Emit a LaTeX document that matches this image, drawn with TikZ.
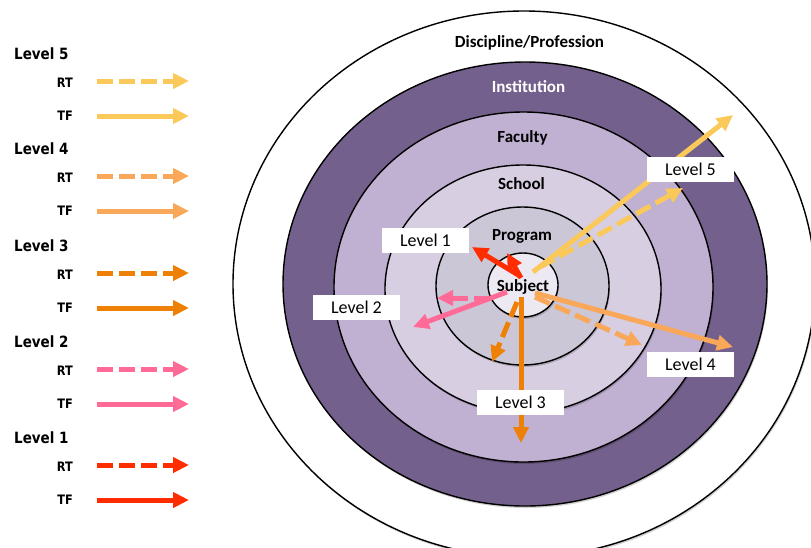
\documentclass[tikz,border=0pt]{standalone}
\usepackage{fontspec}
\setmainfont{Carlito}
\newfontfamily\legendfont[FakeStretch=0.87]{DejaVu Sans}
\usetikzlibrary{arrows.meta}
\definecolor{cInst}{RGB}{116,96,140}
\definecolor{cFac}{RGB}{192,176,210}
\definecolor{cSch}{RGB}{215,206,226}
\definecolor{cProg}{RGB}{204,199,214}
\definecolor{cSubj}{RGB}{237,233,242}
\definecolor{cLv5}{RGB}{251,200,90}
\definecolor{cLv4}{RGB}{249,167,89}
\definecolor{cLv3}{RGB}{238,128,5}
\definecolor{cLv2}{RGB}{255,107,150}
\definecolor{cLv1}{RGB}{255,44,0}
\begin{document}
\begin{tikzpicture}[x=1pt,y=-1pt,
 ring/.style={draw=black,line width=1.4pt},
 ringshadow/.style={fill=black,opacity=0.18},
 ringlabel/.style={font=\fontsize{17}{20}\selectfont\bfseries, inner sep=0pt, text height=11pt, text depth=0pt},
 lvlbox/.style={fill=white, minimum width=87pt, minimum height=25pt, inner sep=0pt,
   text height=11.6pt, text depth=0pt, font=\fontsize{18}{20}\selectfont},
 tfarrow/.style={line width=5pt, -{Triangle[length=16pt,width=15pt]}},
 rtarrow/.style={tfarrow, dash pattern=on 16pt off 6pt},
 lghead/.style={font=\legendfont\fontsize{15.5}{18}\selectfont\bfseries, anchor=west, inner sep=0pt, text height=11.3pt, text depth=0pt},
 lgkey/.style={font=\legendfont\fontsize{13}{15}\selectfont\bfseries, anchor=east, inner sep=0pt, text height=9.5pt, text depth=0pt},
]
\useasboundingbox (0,0) rectangle (811,547);
\clip (0,0) rectangle (811,547);
\fill[white] (0,0) rectangle (811,547);

% rings
\fill[ringshadow] (525,286) ellipse [x radius=291pt, y radius=273pt];
\draw[ring, fill=white] (524,284) ellipse [x radius=291pt, y radius=273pt];
\fill[ringshadow] (526,286) ellipse [x radius=242pt, y radius=222pt];
\draw[ring, fill=cInst] (525,284) ellipse [x radius=242pt, y radius=222pt];
\fill[ringshadow] (524.5,289) ellipse [x radius=189.5pt, y radius=175pt];
\draw[ring, fill=cFac] (523.5,287) ellipse [x radius=189.5pt, y radius=175pt];
\fill[ringshadow] (524,291) ellipse [x radius=138pt, y radius=124pt];
\draw[ring, fill=cSch] (523,289) ellipse [x radius=138pt, y radius=124pt];
\fill[ringshadow] (523.5,288) ellipse [x radius=86.5pt, y radius=79pt];
\draw[ring, fill=cProg] (522.5,286) ellipse [x radius=86.5pt, y radius=79pt];
\fill[ringshadow] (524,287) ellipse [x radius=35pt, y radius=32pt];
\draw[ring, fill=cSubj] (523,285) ellipse [x radius=35pt, y radius=32pt];

% ring labels
\node[ringlabel] (disc) at (529.5,41.7) {Discipline/Profession};
\node[ringlabel, text=white] (inst) at (528.5,87) {Institution};
\node[ringlabel] (fac) at (522.5,137) {Faculty};
\node[ringlabel] (sch) at (521.5,184) {School};
\node[ringlabel] (prog) at (522,235) {Program};
\node[ringlabel] (subj) at (523,285.5) {Subject};

% arrow end points
\coordinate (s5t) at (533,272); \coordinate (e5t) at (733,115);
\coordinate (s5r) at (540,267); \coordinate (e5r) at (683,188);
\coordinate (s4t) at (535,293); \coordinate (e4t) at (733,347);
\coordinate (s4r) at (535,297); \coordinate (e4r) at (642,345);
\coordinate (s3t) at (521,297); \coordinate (e3t) at (521,443);
\coordinate (s3r) at (517,302); \coordinate (e3r) at (492,362);
\coordinate (s2t) at (507,292); \coordinate (e2t) at (413,327);
\coordinate (s2r) at (490,298); \coordinate (e2r) at (437,298);
\coordinate (s1t) at (520,276); \coordinate (e1t) at (472,247);
\coordinate (s1r) at (521,278); \coordinate (e1r) at (507,253);

\draw[tfarrow, cLv5] (s5t) -- (e5t);
\draw[rtarrow, cLv5] (s5r) -- (e5r);
\draw[tfarrow, cLv4] (s4t) -- (e4t);
\draw[rtarrow, cLv4] (s4r) -- (e4r);
\draw[tfarrow, cLv3] (s3t) -- (e3t);
\draw[rtarrow, cLv3] (s3r) -- (e3r);
\draw[tfarrow, cLv2] (s2t) -- (e2t);
\draw[rtarrow, cLv2] (s2r) -- (e2r);
\draw[tfarrow, cLv1] (s1t) -- (e1t);
\draw[rtarrow, cLv1] (s1r) -- (e1r);

% level boxes
\node[lvlbox] (b5) at (690.5,169.5) {Level 5};
\node[lvlbox] (b4) at (690.5,364.5) {Level 4};
\node[lvlbox] (b3) at (520.5,402.5) {Level 3};
\node[lvlbox] (b2) at (356.5,307.5) {Level 2};
\node[lvlbox] (b1) at (425.5,240.5) {Level 1};

% legend
\foreach \lv/\hy/\col in {5/54/cLv5, 4/149/cLv4, 3/246/cLv3, 2/342/cLv2, 1/438/cLv1}{
  \node[lghead] (h\lv) at (14,\hy) {Level \lv};
  \node[lgkey] (rt\lv) at (73,\hy+29) {RT};
  \node[lgkey] (tf\lv) at (73,\hy+62) {TF};
  \coordinate (rs\lv) at (97,\hy+27);
  \coordinate (re\lv) at (189,\hy+27);
  \coordinate (ts\lv) at (97,\hy+62);
  \coordinate (te\lv) at (189,\hy+62);
  \draw[rtarrow, \col] (rs\lv) -- (re\lv);
  \draw[tfarrow, \col] (ts\lv) -- (te\lv);
}
\end{tikzpicture}
\end{document}
